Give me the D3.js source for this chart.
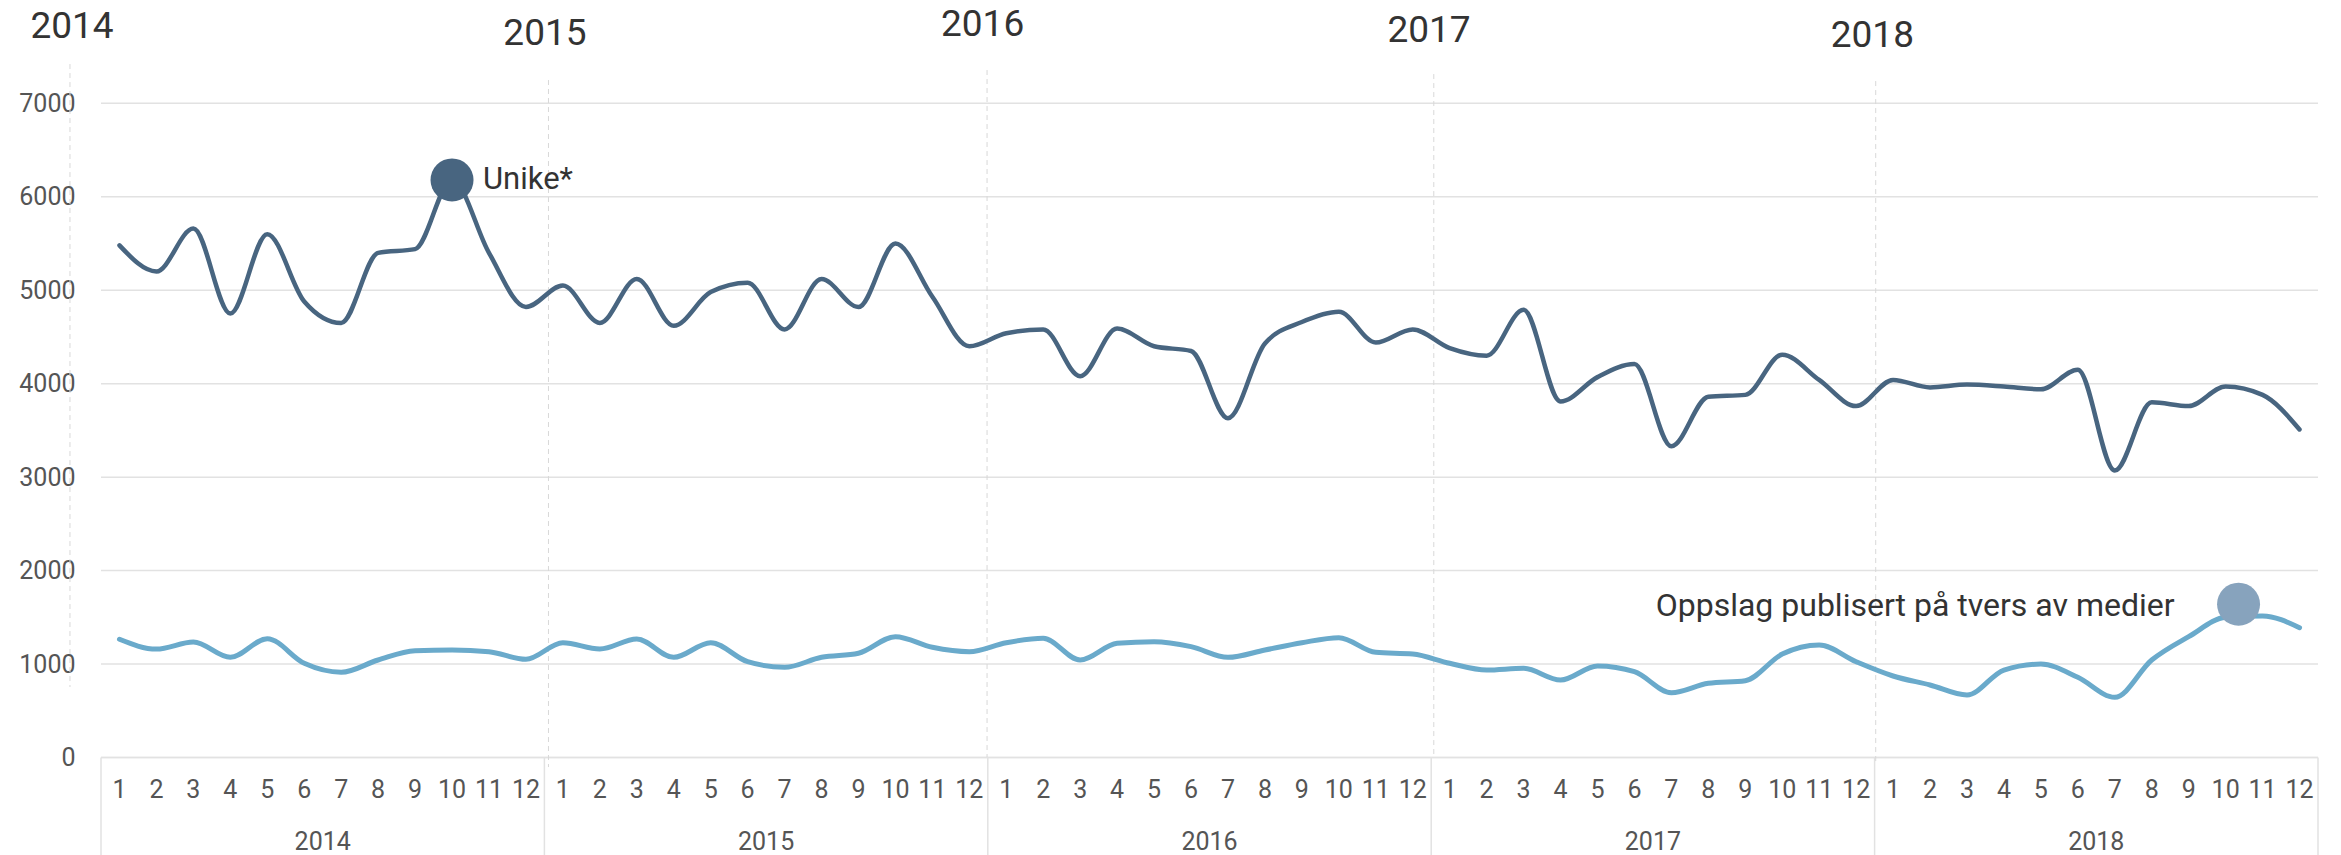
<!DOCTYPE html>
<html>
<head>
<meta charset="utf-8">
<script src="https://cdn.jsdelivr.net/npm/d3@7"></script>
<style>
  html, body { margin: 0; padding: 0; background: #fff; }
  svg { display: block; font-family: Roboto, "Noto Sans", sans-serif; }
</style>
</head>
<body>
<svg id="chart" width="2341" height="855"></svg>
<script>
// ---- Data ----
const years = ["2014", "2015", "2016", "2017", "2018"];
const monthLabels = ["1","2","3","4","5","6","7","8","9","10","11","12"];
const yTicks = [0, 1000, 2000, 3000, 4000, 5000, 6000, 7000];

const unike = [
  5480, 5200, 5660, 4750, 5600, 4880, 4650, 5400, 5440, 6180, 5400, 4820,
  5050, 4650, 5120, 4620, 4980, 5080, 4580, 5120, 4820, 5500, 4930, 4400,
  4540, 4580, 4080, 4590, 4400, 4350, 3630, 4430, 4660, 4770, 4440, 4580,
  4380, 4300, 4790, 3810, 4070, 4210, 3330, 3860, 3880, 4310, 4040, 3760,
  4040, 3960, 3990, 3970, 3940, 4150, 3070, 3800, 3760, 3970, 3880, 3510
];
const oppslag = [
  1265, 1160, 1236, 1072, 1271, 1008,  912, 1043, 1143, 1150, 1132, 1051,
  1228, 1161, 1268, 1072, 1228, 1025,  965, 1072, 1115, 1293, 1179, 1132,
  1228, 1275, 1043, 1222, 1239, 1186, 1072, 1150, 1228, 1282, 1125, 1107,
  1008,  936,  954,  829,  979,  918,  693,  794,  822, 1107, 1204, 1025,
   872,  776,  669,  936, 1000,  858,  644, 1043, 1293, 1500, 1514, 1389
];

// Series labels with marker positions (month index, value)
const seriesNames = ["Unike*", "Oppslag publisert på tvers av medier"];
const markerIndex = [9, 57.35];
const markerValue = [6180, 1640];

// Year annotations at top (month index for line and label, label value, line top/bottom values)
const yearNoteIndex = [-1.34, 11.61, 23.48, 35.57, 47.53];
const yearNoteLabelIndex = [-1.285, 11.515, 23.36, 35.44, 47.44];
const yearNoteLabelValue = [7806, 7731, 7827, 7763, 7710];
const yearNoteTopValue = [7420, 7249, 7356, 7313, 7238];
const yearNoteBottomValue = [754, -102, 5, 5, -80];

// ---- Layout ----
const W = 2341, H = 855;
const plotLeft = 101, plotRight = 2318;
const yTop = 103.3, yBottom = 757.5;
const colors = ["#486580", "#6aaacb"];
const markerColors = ["#486580", "#87a3bd"];

const svg = d3.select("#chart");

const keys = [];
years.forEach(y => monthLabels.forEach(m => keys.push(y + "-" + m)));

const x = d3.scaleBand().domain(keys).range([plotLeft, plotRight]).padding(0);
const bw = x.bandwidth();
const xc = k => x(k) + bw / 2;
const xi = i => plotLeft + bw / 2 + i * bw; // fractional month index

const y = d3.scaleLinear().domain([0, 7000]).range([yBottom, yTop]);

// Gridlines
svg.append("g").selectAll("line").data(yTicks).join("line")
  .attr("x1", plotLeft).attr("x2", plotRight)
  .attr("y1", d => y(d)).attr("y2", d => y(d))
  .attr("stroke", "#e2e2e2").attr("stroke-width", 1.5);

// Y axis labels
const yAxis = d3.axisLeft(y).tickValues(yTicks).tickSize(0).tickPadding(0).tickFormat(d3.format("d"));
const gy = svg.append("g").attr("transform", "translate(75.5,0)").call(yAxis);
gy.select(".domain").remove();
gy.selectAll("text").attr("font-size", 25).attr("fill", "#555").attr("font-family", "Roboto");

// Bottom x axis: month labels
const xAxis = d3.axisBottom(x).tickSize(0).tickPadding(0).tickFormat(k => k.split("-")[1]);
const gx = svg.append("g").attr("transform", `translate(0,${yBottom})`).call(xAxis);
gx.select(".domain").remove();
gx.selectAll("text").attr("font-size", 25).attr("fill", "#555")
  .attr("font-family", "Roboto").attr("dy", null).attr("y", 34)
  .attr("dominant-baseline", "middle");

// Separators for year groups
const sepX = years.map(yr => x(yr + "-1")).concat([plotRight]);
svg.append("g").selectAll("line").data(sepX).join("line")
  .attr("x1", d => d).attr("x2", d => d)
  .attr("y1", yBottom).attr("y2", H)
  .attr("stroke", "#e2e2e2").attr("stroke-width", 1.5);

// Year labels under months
svg.append("g").selectAll("text").data(years).join("text")
  .attr("x", yr => (x(yr + "-1") + x(yr + "-12") + bw) / 2)
  .attr("y", 843)
  .attr("text-anchor", "middle").attr("dominant-baseline", "middle")
  .attr("font-size", 25).attr("fill", "#555")
  .text(d => d);

// Axis base line
svg.append("line").attr("x1", plotLeft).attr("x2", plotRight)
  .attr("y1", y(0)).attr("y2", y(0)).attr("stroke", "#e2e2e2").attr("stroke-width", 1.5);

// Year annotations: dashed vertical lines and labels
const gNotes = svg.append("g");
gNotes.selectAll("line").data(years).join("line")
  .attr("x1", (d, i) => xi(yearNoteIndex[i])).attr("x2", (d, i) => xi(yearNoteIndex[i]))
  .attr("y1", (d, i) => y(yearNoteTopValue[i])).attr("y2", (d, i) => y(yearNoteBottomValue[i]))
  .attr("stroke", "#d8d8d8").attr("stroke-width", 1).attr("stroke-dasharray", "5,4");
gNotes.selectAll("text").data(years).join("text")
  .attr("x", (d, i) => xi(yearNoteLabelIndex[i]))
  .attr("y", (d, i) => y(yearNoteLabelValue[i]))
  .attr("text-anchor", "middle").attr("dominant-baseline", "middle")
  .attr("font-size", 37).attr("fill", "#333")
  .text(d => d);

// Lines
const line = d3.line().x((d, i) => xc(keys[i])).y(d => y(d)).curve(d3.curveMonotoneX);
const series = [unike, oppslag];
svg.append("g").selectAll("path").data(series).join("path")
  .attr("d", d => line(d))
  .attr("fill", "none")
  .attr("stroke", (d, i) => colors[i])
  .attr("stroke-width", (d, i) => i === 0 ? 4.5 : 5)
  .attr("stroke-linejoin", "round").attr("stroke-linecap", "round");

// Markers
svg.append("g").selectAll("circle").data(seriesNames).join("circle")
  .attr("cx", (d, i) => xi(markerIndex[i]))
  .attr("cy", (d, i) => y(markerValue[i]))
  .attr("r", 21.5)
  .attr("fill", (d, i) => markerColors[i]);

// Series labels
svg.append("text")
  .attr("x", xi(markerIndex[0]) + 31).attr("y", y(markerValue[0]) + 1)
  .attr("dominant-baseline", "middle").attr("font-size", 31).attr("fill", "#333")
  .text(seriesNames[0]);
svg.append("text")
  .attr("x", xi(markerIndex[1]) - 64).attr("y", y(markerValue[1]) + 3)
  .attr("text-anchor", "end")
  .attr("dominant-baseline", "middle").attr("font-size", 32).attr("fill", "#333")
  .text(seriesNames[1]);
</script>
</body>
</html>
